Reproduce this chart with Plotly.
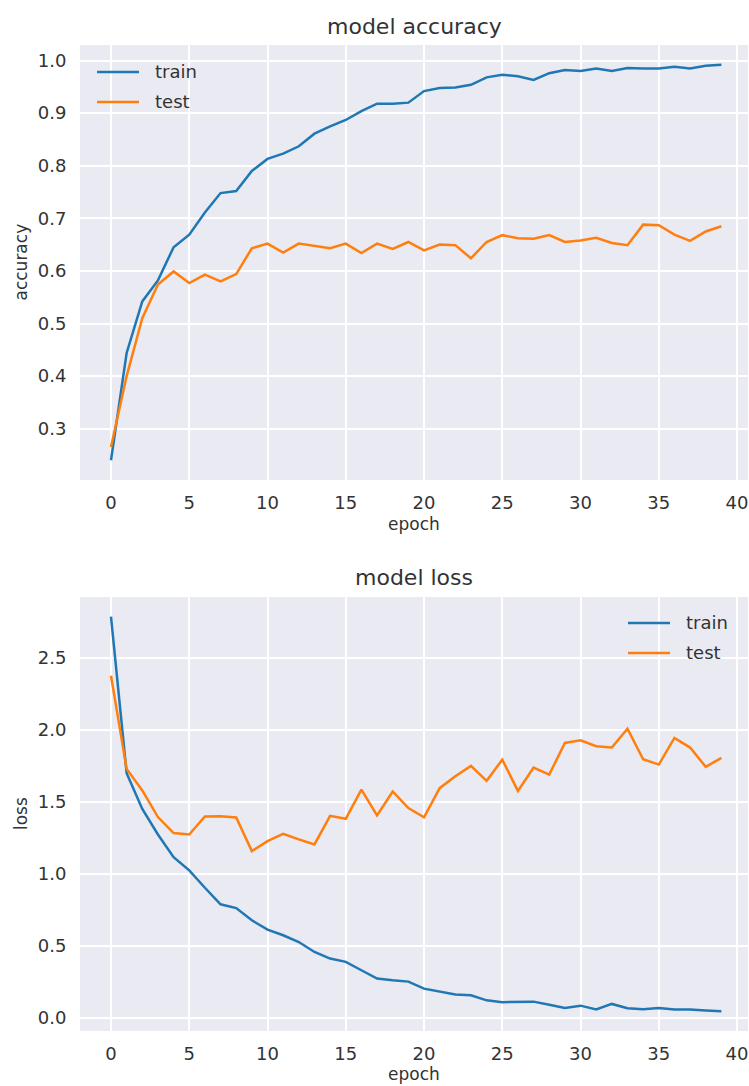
import plotly.graph_objects as go

# Training history over 40 epochs
epochs = list(range(40))

train_acc = [0.240, 0.444, 0.542, 0.582, 0.645, 0.669, 0.711, 0.748, 0.752, 0.790,
             0.813, 0.823, 0.837, 0.861, 0.875, 0.887, 0.904, 0.918, 0.918, 0.920,
             0.942, 0.948, 0.949, 0.954, 0.968, 0.973, 0.970, 0.963, 0.976, 0.982,
             0.980, 0.985, 0.980, 0.986, 0.985, 0.985, 0.988, 0.985, 0.990, 0.992]

test_acc = [0.265, 0.400, 0.510, 0.574, 0.599, 0.577, 0.593, 0.580, 0.594, 0.643,
            0.652, 0.635, 0.652, 0.648, 0.643, 0.652, 0.634, 0.652, 0.642, 0.655,
            0.639, 0.650, 0.649, 0.624, 0.655, 0.668, 0.662, 0.661, 0.668, 0.655,
            0.658, 0.663, 0.653, 0.649, 0.688, 0.687, 0.669, 0.657, 0.675, 0.685]

train_loss = [2.787, 1.700, 1.452, 1.274, 1.117, 1.025, 0.904, 0.789, 0.763, 0.678,
              0.613, 0.574, 0.527, 0.458, 0.412, 0.389, 0.331, 0.273, 0.261, 0.252,
              0.203, 0.180, 0.162, 0.157, 0.122, 0.109, 0.109, 0.113, 0.092, 0.069,
              0.085, 0.058, 0.097, 0.067, 0.060, 0.069, 0.058, 0.058, 0.051, 0.046]

test_loss = [2.377, 1.730, 1.580, 1.395, 1.284, 1.274, 1.399, 1.401, 1.392, 1.159,
             1.228, 1.279, 1.240, 1.205, 1.404, 1.383, 1.586, 1.406, 1.573, 1.458,
             1.393, 1.596, 1.679, 1.751, 1.647, 1.794, 1.577, 1.739, 1.690, 1.910,
             1.928, 1.887, 1.878, 2.009, 1.797, 1.760, 1.945, 1.878, 1.744, 1.806]

x_ticks = [0, 5, 10, 15, 20, 25, 30, 35, 40]
acc_ticks = [0.3, 0.4, 0.5, 0.6, 0.7, 0.8, 0.9, 1.0]
loss_ticks = [0.0, 0.5, 1.0, 1.5, 2.0, 2.5]

W, H = 749, 1086
BLUE = "#1f77b4"
ORANGE = "#ff7f0e"
TEXT = "#333333"
BG = "#EAEAF2"
FONT = "DejaVu Sans"
TICK_SIZE = 18
LABEL_SIZE = 17
TITLE_SIZE = 22
LEGEND_SIZE = 18
LINE_W = 2.5


def padded(values, frac=0.05):
    lo, hi = min(values), max(values)
    m = (hi - lo) * frac
    return [lo - m, hi + m]


def px_x(p):
    return p / W


def px_y(p):
    return 1 - p / H


fig = go.Figure()

for ys, color, name, xa, ya in [(train_acc, BLUE, "train", "x", "y"),
                                (test_acc, ORANGE, "test", "x", "y"),
                                (train_loss, BLUE, "train", "x2", "y2"),
                                (test_loss, ORANGE, "test", "x2", "y2")]:
    fig.add_trace(go.Scatter(x=epochs, y=ys, mode="lines", name=name,
                             line=dict(color=color, width=LINE_W),
                             xaxis=xa, yaxis=ya, showlegend=False))

x_range = [-1.98, 40.7]
x_dom = [px_x(80), px_x(748)]

common_x = dict(range=x_range, domain=x_dom, tickvals=x_ticks,
                ticks="outside", ticklen=6, tickcolor="rgba(0,0,0,0)",
                showgrid=True, gridcolor="white", gridwidth=1.6,
                zeroline=False, showline=False,
                tickfont=dict(family=FONT, size=TICK_SIZE, color=TEXT))
common_y = dict(ticks="outside", ticklen=9, tickcolor="rgba(0,0,0,0)",
                showgrid=True, gridcolor="white", gridwidth=1.6,
                zeroline=False, showline=False,
                tickfont=dict(family=FONT, size=TICK_SIZE, color=TEXT))

fig.update_layout(
    width=W, height=H,
    margin=dict(l=0, r=0, t=0, b=0),
    paper_bgcolor="white",
    plot_bgcolor=BG,
    font=dict(family=FONT, color=TEXT),
    xaxis=dict(**common_x, anchor="y"),
    yaxis=dict(**common_y, anchor="x", range=padded(train_acc + test_acc),
               domain=[px_y(480), px_y(45)], tickvals=acc_ticks,
               ticktext=[f"{v:.1f}" for v in acc_ticks]),
    xaxis2=dict(**common_x, anchor="y2"),
    yaxis2=dict(**common_y, anchor="x2", range=padded(train_loss + test_loss),
                domain=[px_y(1031), px_y(597)], tickvals=loss_ticks,
                ticktext=[f"{v:.1f}" for v in loss_ticks]),
)

annotations = []
shapes = []

# Titles and axis labels
mid_x = px_x((80 + 748) / 2)
for text, y, size in [("model accuracy", 26, TITLE_SIZE), ("model loss", 577, TITLE_SIZE),
                      ("epoch", 524, LABEL_SIZE), ("epoch", 1074, LABEL_SIZE)]:
    annotations.append(dict(text=text, x=mid_x, y=px_y(y), xref="paper", yref="paper",
                            xanchor="center", yanchor="middle", showarrow=False,
                            font=dict(family=FONT, size=size, color=TEXT)))
for text, y in [("accuracy", (45 + 480) / 2), ("loss", (597 + 1031) / 2)]:
    annotations.append(dict(text=text, x=px_x(21), y=px_y(y), xref="paper", yref="paper",
                            xanchor="center", yanchor="middle", showarrow=False,
                            textangle=-90,
                            font=dict(family=FONT, size=LABEL_SIZE, color=TEXT)))

# Legends
legend_specs = [
    (97, 72, [("train", BLUE), ("test", ORANGE)]),
    (628, 623, [("train", BLUE), ("test", ORANGE)]),
]
for x0, y0, items in legend_specs:
    for i, (label, color) in enumerate(items):
        yy = y0 + i * 30
        shapes.append(dict(type="line", xref="paper", yref="paper",
                           x0=px_x(x0), x1=px_x(x0 + 42), y0=px_y(yy), y1=px_y(yy),
                           line=dict(color=color, width=LINE_W)))
        annotations.append(dict(text=label, x=px_x(x0 + 56), y=px_y(yy - 1),
                                xref="paper", yref="paper",
                                xanchor="left", yanchor="middle", showarrow=False,
                                font=dict(family=FONT, size=LEGEND_SIZE, color=TEXT)))

fig.update_layout(annotations=annotations, shapes=shapes)

fig.write_html("out.html")
